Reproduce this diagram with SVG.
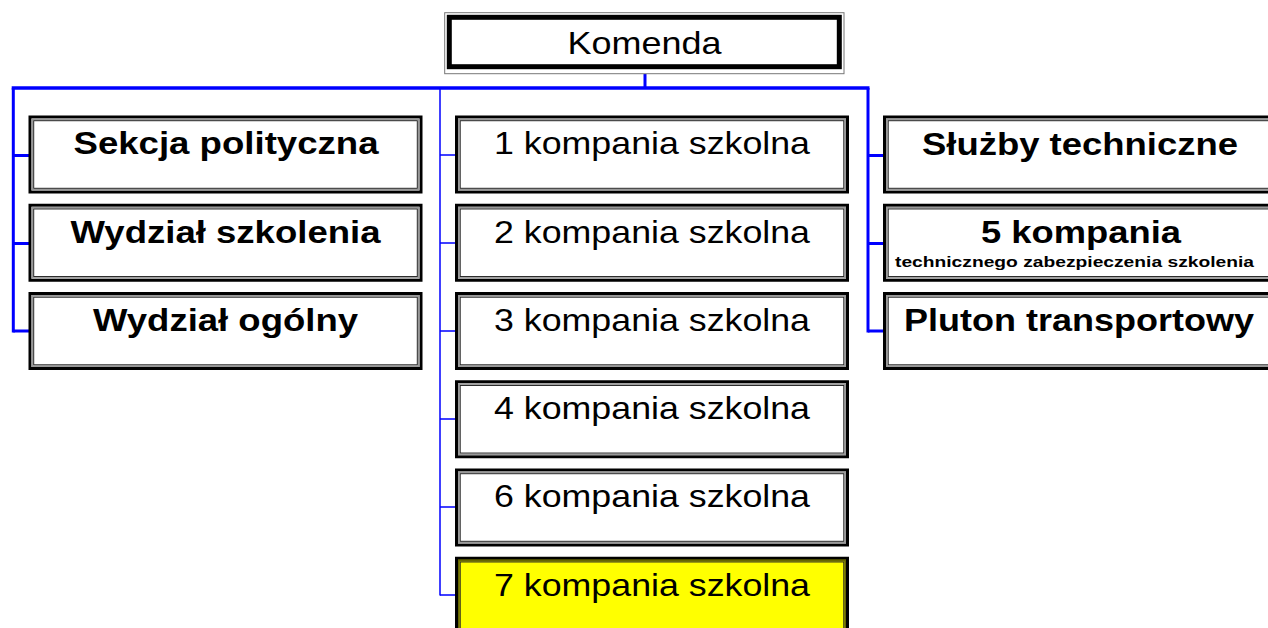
<svg xmlns="http://www.w3.org/2000/svg" width="1268" height="628" viewBox="0 0 1268 628">
<style>
.o{fill:#fff;stroke:#000;stroke-width:3}
.oy{fill:#ffff00;stroke:#000;stroke-width:3}
.g{fill:none;stroke:#999;stroke-width:1.6}
.i{fill:none;stroke:#222;stroke-width:1}
.t{font-family:"Liberation Sans",Arial,sans-serif;font-size:32px;fill:#000;text-anchor:middle}
.b{font-weight:bold}
.s{font-family:"Liberation Sans",Arial,sans-serif;font-size:15px;font-weight:bold;fill:#000;text-anchor:middle}
.bus{stroke:#0000ff;fill:none}
</style>
<rect width="1268" height="628" fill="#fff"/>
<g id="connectors">
<line class="bus" x1="645" y1="74" x2="645" y2="88" stroke-width="3"/>
<line class="bus" x1="11.7" y1="88" x2="869.5" y2="88" stroke-width="3.5"/>
<line class="bus" x1="13.3" y1="88" x2="13.3" y2="332.5" stroke-width="3"/>
<line class="bus" x1="868" y1="88" x2="868" y2="332.5" stroke-width="3"/>
<line class="bus" x1="440" y1="88" x2="440" y2="595.5" stroke-width="1.5"/>
<path class="bus" stroke-width="3" d="M13.3 155.5H29M13.3 243.5H29M13.3 331H29M868 155.5H883M868 243.5H883M868 331H883"/>
<path class="bus" stroke-width="1.5" d="M440 155H455M440 243H455M440 331H455M440 419H455M440 507H455M440 595H455"/>
</g>
<g id="komenda">
<rect x="444.7" y="12.7" width="399.3" height="61" fill="#fff" stroke="#777" stroke-width="1"/>
<rect x="449.3" y="17.3" width="390" height="49.4" fill="none" stroke="#000" stroke-width="5"/>
<text class="t" x="644.5" y="54" textLength="154" lengthAdjust="spacingAndGlyphs">Komenda</text>
</g>
<g id="sekcja">
<rect class="o" x="30" y="117" width="391" height="75"/><rect class="g" x="32.3" y="119.3" width="386.4" height="70.4"/><rect class="i" x="33.7" y="120.7" width="383.6" height="67.6"/>
<text class="t b" x="226" y="154" textLength="305" lengthAdjust="spacingAndGlyphs">Sekcja polityczna</text>
</g>
<g id="wydzial-szkolenia">
<rect class="o" x="30" y="205.25" width="391" height="75"/><rect class="g" x="32.3" y="207.55" width="386.4" height="70.4"/><rect class="i" x="33.7" y="208.95" width="383.6" height="67.6"/>
<text class="t b" x="225.5" y="242.5" textLength="310" lengthAdjust="spacingAndGlyphs">Wydział szkolenia</text>
</g>
<g id="wydzial-ogolny">
<rect class="o" x="30" y="293.5" width="391" height="75"/><rect class="g" x="32.3" y="295.8" width="386.4" height="70.4"/><rect class="i" x="33.7" y="297.2" width="383.6" height="67.6"/>
<text class="t b" x="225.5" y="330.5" textLength="265" lengthAdjust="spacingAndGlyphs">Wydział ogólny</text>
</g>
<g id="k1">
<rect class="o" x="456.5" y="117" width="391" height="75"/><rect class="g" x="458.8" y="119.3" width="386.4" height="70.4"/><rect class="i" x="460.2" y="120.7" width="383.6" height="67.6"/>
<text class="t" x="652" y="154" textLength="316" lengthAdjust="spacingAndGlyphs">1 kompania szkolna</text>
</g>
<g id="k2">
<rect class="o" x="456.5" y="205.25" width="391" height="75"/><rect class="g" x="458.8" y="207.55" width="386.4" height="70.4"/><rect class="i" x="460.2" y="208.95" width="383.6" height="67.6"/>
<text class="t" x="652" y="242.5" textLength="316" lengthAdjust="spacingAndGlyphs">2 kompania szkolna</text>
</g>
<g id="k3">
<rect class="o" x="456.5" y="293.5" width="391" height="75"/><rect class="g" x="458.8" y="295.8" width="386.4" height="70.4"/><rect class="i" x="460.2" y="297.2" width="383.6" height="67.6"/>
<text class="t" x="652" y="330.5" textLength="316" lengthAdjust="spacingAndGlyphs">3 kompania szkolna</text>
</g>
<g id="k4">
<rect class="o" x="456.5" y="381.75" width="391" height="75"/><rect class="g" x="458.8" y="384.05" width="386.4" height="70.4"/><rect class="i" x="460.2" y="385.45" width="383.6" height="67.6"/>
<text class="t" x="652" y="419" textLength="316" lengthAdjust="spacingAndGlyphs">4 kompania szkolna</text>
</g>
<g id="k6">
<rect class="o" x="456.5" y="470" width="391" height="75"/><rect class="g" x="458.8" y="472.3" width="386.4" height="70.4"/><rect class="i" x="460.2" y="473.7" width="383.6" height="67.6"/>
<text class="t" x="652" y="507.2" textLength="316" lengthAdjust="spacingAndGlyphs">6 kompania szkolna</text>
</g>
<g id="k7">
<rect class="oy" x="456.5" y="558.25" width="391" height="75"/><rect x="458.8" y="560.55" width="386.4" height="70.4" fill="none" stroke="#666600" stroke-width="1.6"/><rect class="i" x="460.2" y="561.95" width="383.6" height="67.6"/>
<text class="t" x="652" y="595.5" textLength="316" lengthAdjust="spacingAndGlyphs">7 kompania szkolna</text>
</g>
<g id="sluzby">
<rect class="o" x="884.5" y="117" width="391" height="75"/><rect class="g" x="886.8" y="119.3" width="386.4" height="70.4"/><rect class="i" x="888.2" y="120.7" width="383.6" height="67.6"/>
<text class="t b" x="1080" y="155" textLength="316" lengthAdjust="spacingAndGlyphs">Służby techniczne</text>
</g>
<g id="k5">
<rect class="o" x="884.5" y="205.25" width="391" height="75"/><rect class="g" x="886.8" y="207.55" width="386.4" height="70.4"/><rect class="i" x="888.2" y="208.95" width="383.6" height="67.6"/>
<text class="t b" x="1081" y="243" textLength="200" lengthAdjust="spacingAndGlyphs">5 kompania</text>
<text class="s" x="1074.5" y="266.5" textLength="359" lengthAdjust="spacingAndGlyphs">technicznego zabezpieczenia szkolenia</text>
</g>
<g id="pluton">
<rect class="o" x="884.5" y="293.5" width="391" height="75"/><rect class="g" x="886.8" y="295.8" width="386.4" height="70.4"/><rect class="i" x="888.2" y="297.2" width="383.6" height="67.6"/>
<text class="t b" x="1079" y="331" textLength="350" lengthAdjust="spacingAndGlyphs">Pluton transportowy</text>
</g>
</svg>
